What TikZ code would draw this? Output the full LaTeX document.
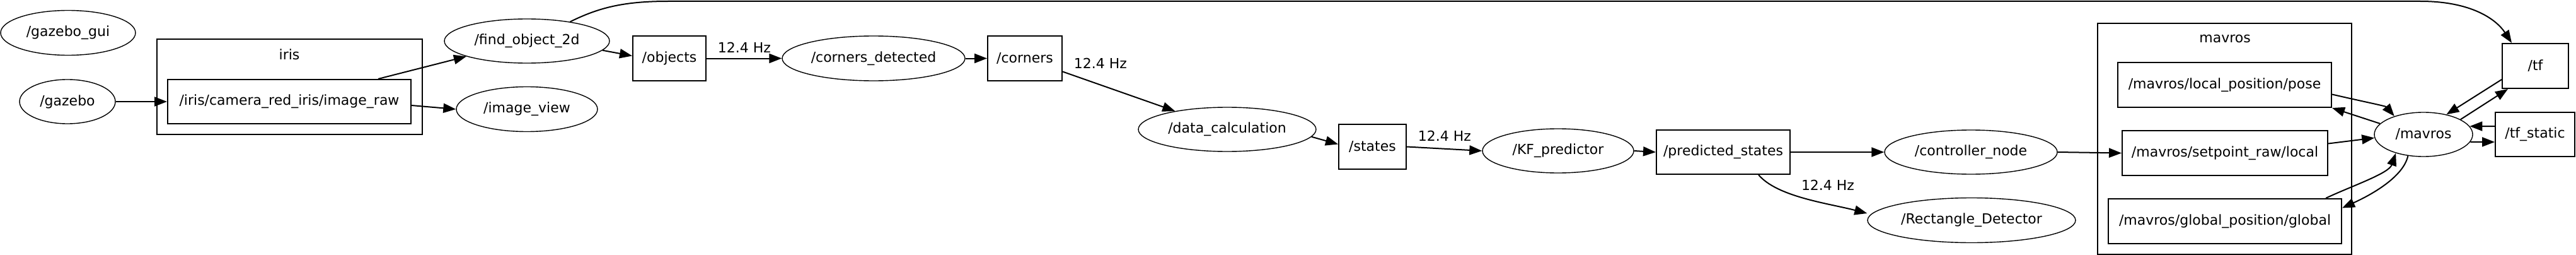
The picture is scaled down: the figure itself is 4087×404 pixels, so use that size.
\documentclass[tikz,border=0pt]{standalone}
\usepackage{fontspec}
\setmainfont{DejaVu Sans}
\usetikzlibrary{arrows.meta,shapes.geometric}
\begin{document}
\begin{tikzpicture}[x=1pt,y=-1pt,
  font=\fontsize{22}{26}\selectfont,
  ell/.style={draw,ellipse,line width=1.4pt,inner sep=0pt},
  topic/.style={draw,rectangle,line width=2pt,inner sep=0pt},
  cluster/.style={draw,rectangle,line width=2pt,inner sep=0pt},
  edge/.style={draw,line width=2pt,-{Triangle[length=20pt,width=15pt]}},
  lbl/.style={inner sep=0pt}]
\useasboundingbox (0,0) rectangle (4087,404);
% clusters
\node[cluster,minimum width=421pt,minimum height=151pt] (iriscl) at (459.5,137.5) {};
\node[lbl] (irislbl) at (459,86) {iris};
\node[cluster,minimum width=403pt,minimum height=366pt] (mavroscl) at (3529.5,220) {};
\node[lbl] (mavroslbl) at (3530,61) {mavros};
% nodes (ellipses)
\node[ell,minimum width=214pt,minimum height=71pt] (gazebogui) at (108,52) {/gazebo\_gui};
\node[ell,minimum width=152pt,minimum height=70pt] (gazebo) at (107,161) {/gazebo};
\node[ell,minimum width=262pt,minimum height=70pt] (find) at (836,65) {/find\_object\_2d};
\node[ell,minimum width=224pt,minimum height=71pt] (imageview) at (836,173) {/image\_view};
\node[ell,minimum width=290pt,minimum height=71pt] (cornersdet) at (1386,92.5) {/corners\_detected};
\node[ell,minimum width=282pt,minimum height=70pt] (datacalc) at (1947,205) {/data\_calculation};
\node[ell,minimum width=240pt,minimum height=70pt] (kf) at (2472,239) {/KF\_predictor};
\node[ell,minimum width=274pt,minimum height=70pt] (controller) at (3127,241) {/controller\_node};
\node[ell,minimum width=330pt,minimum height=71pt] (rect) at (3128,349) {/Rectangle\_Detector};
\node[ell,minimum width=156pt,minimum height=70pt] (mavrosn) at (3845,213) {/mavros};
% topics (boxes)
\node[topic,minimum width=386pt,minimum height=70pt] (raw) at (459,161) {/iris/camera\_red\_iris/image\_raw};
\node[topic,minimum width=116pt,minimum height=71pt] (objects) at (1062,92.5) {/objects};
\node[topic,minimum width=118pt,minimum height=71pt] (corners) at (1626,92.5) {/corners};
\node[topic,minimum width=107pt,minimum height=71pt] (states) at (2177.5,232.5) {/states};
\node[topic,minimum width=212pt,minimum height=70pt] (predicted) at (2734,241) {/predicted\_states};
\node[topic,minimum width=339pt,minimum height=71pt] (pose) at (3529.5,134.5) {/mavros/local\_position/pose};
\node[topic,minimum width=326pt,minimum height=71pt] (setpoint) at (3530,242.5) {/mavros/setpoint\_raw/local};
\node[topic,minimum width=370pt,minimum height=71pt] (global) at (3530,350.5) {/mavros/global\_position/global};
\node[topic,minimum width=105pt,minimum height=71pt] (tf) at (4022.5,104.5) {/tf};
\node[topic,minimum width=126pt,minimum height=70pt] (tfstatic) at (4022,213) {/tf\_static};
% edge labels
\node[lbl] (l1) at (1181,75) {12.4 Hz};
\node[lbl] (l2) at (1746,100) {12.4 Hz};
\node[lbl] (l3) at (2292,215) {12.4 Hz};
\node[lbl] (l4) at (2900,293) {12.4 Hz};
% edges
\draw[edge] (gazebo.east) -- (raw.west);
\draw[edge] ([xshift=141pt]raw.north) -- (find);
\draw[edge] ([yshift=-6pt]raw.east) -- (imageview.west);
\draw[edge] (find.-7) -- ([yshift=4pt]objects.west);
\draw[edge] (find.24) .. controls (950,12) and (990,2) .. (1060,2) -- (3840,2) .. controls (3920,2) and (3960,30) .. ([xshift=16pt]tf.north west);
\draw[edge] (objects.east) -- (cornersdet.west);
\draw[edge] (cornersdet.east) -- (corners.west);
\draw[edge] ([yshift=-21pt]corners.east) -- (datacalc);
\draw[edge] (datacalc.-5) -- ([yshift=4pt]states.west);
\draw[edge] (states.east) -- (kf.west);
\draw[edge] (kf.east) -- (predicted.west);
\draw[edge] (predicted.east) -- (controller.west);
\draw[edge] ([xshift=56pt]predicted.south) .. controls (2820,312) and (2900,322) .. ([yshift=11pt]rect.west);
\draw[edge] (controller.east) -- (setpoint.west);
\draw[edge] ([yshift=-15pt]pose.east) .. controls (3745,160) and (3785,168) .. (mavrosn.148);
\draw[edge] (mavrosn.166) -- (pose.south east);
\draw[edge] ([yshift=15pt]setpoint.east) -- (mavrosn.184);
\draw[edge] ([xshift=-26pt]global.north east) .. controls (3730,295) and (3790,275) .. (mavrosn.214);
\draw[edge] (mavrosn.234) .. controls (3812,285) and (3748,315) .. ([yshift=21pt]global.east);
\draw[edge] ([yshift=15pt]tf.south west) -- (mavrosn.41);
\draw[edge] (mavrosn.22) -- ([xshift=10pt]tf.south west);
\draw[edge] ([yshift=13pt]tfstatic.west) -- (mavrosn.10);
\draw[edge] (mavrosn.-9) -- ([yshift=-12pt]tfstatic.west);
\end{tikzpicture}
\end{document}
